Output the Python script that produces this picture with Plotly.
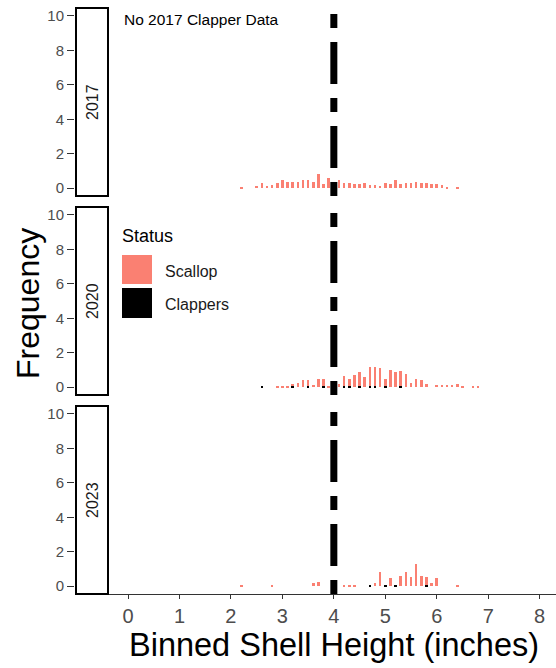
import plotly.graph_objects as go

# ---------------- data ----------------
years = ["2017", "2020", "2023"]
tick_x = [0, 1, 2, 3, 4, 5, 6, 7, 8]
tick_y = [0, 2, 4, 6, 8, 10]
threshold = 4.0

bins_2017 = [2.2, 2.5, 2.6, 2.7, 2.8, 2.9, 3.0, 3.1, 3.2, 3.3, 3.4, 3.5, 3.6, 3.7, 3.8, 3.9,
             4.0, 4.1, 4.2, 4.3, 4.4, 4.5, 4.6, 4.7, 4.8, 4.9, 5.0, 5.1, 5.2, 5.3, 5.4, 5.5,
             5.6, 5.7, 5.8, 5.9, 6.0, 6.1, 6.2, 6.4]
scallop_2017 = [0.1, 0.15, 0.3, 0.15, 0.2, 0.3, 0.5, 0.35, 0.35, 0.35, 0.45, 0.5, 0.35, 0.8, 0.25, 0.6,
                0.35, 0.5, 0.3, 0.3, 0.25, 0.25, 0.3, 0.2, 0.2, 0.15, 0.3, 0.25, 0.5, 0.25, 0.3, 0.3,
                0.35, 0.3, 0.3, 0.25, 0.25, 0.2, 0.1, 0.1]

bins_2020 = [2.9, 3.0, 3.1, 3.2, 3.3, 3.4, 3.5, 3.6, 3.7, 3.8, 3.9, 4.0, 4.1, 4.2, 4.3, 4.4,
             4.5, 4.6, 4.7, 4.8, 4.9, 5.0, 5.1, 5.2, 5.3, 5.4, 5.5, 5.6, 5.7, 5.8, 6.0, 6.1,
             6.2, 6.3, 6.4, 6.5, 6.7, 6.8]
scallop_2020 = [0.1, 0.1, 0.1, 0.1, 0.25, 0.4, 0.3, 0.15, 0.5, 0.35, 0.1, 0.3, 0.2, 0.55, 0.35, 0.7,
                0.8, 0.6, 1.1, 1.1, 1.1, 0.35, 1.0, 0.9, 0.85, 0.75, 0.25, 0.45, 0.4, 0.2, 0.15, 0.15,
                0.15, 0.15, 0.2, 0.1, 0.1, 0.1]
clap_bins_2020 = [2.6, 3.2, 3.5, 3.8, 4.2, 4.3, 4.5, 4.7, 4.8, 5.0, 5.3]
clappers_2020 = [0.1, 0.1, 0.1, 0.1, 0.1, 0.1, 0.1, 0.1, 0.1, 0.1, 0.1]

bins_2023 = [2.2, 2.8, 3.6, 3.7, 4.2, 4.3, 4.4, 4.8, 4.9, 5.1, 5.3, 5.4, 5.5, 5.6, 5.7, 5.8,
             5.9, 6.0, 6.4]
scallop_2023 = [0.1, 0.1, 0.2, 0.25, 0.1, 0.1, 0.1, 0.2, 0.8, 0.45, 0.6, 0.8, 0.55, 1.3, 0.6, 0.45,
                0.2, 0.45, 0.1]
clap_bins_2023 = [4.7, 5.0, 5.2, 5.8]
clappers_2023 = [0.1, 0.1, 0.1, 0.1]

status_labels = ["Scallop", "Clappers"]
colors = {"Scallop": "#FA8072", "Clappers": "#000000"}

# ---------------- geometry (pixels) ----------------
W, H = 556, 668
ML, MR, MT, MB = 75, 0, 8, 74
PW = W - ML - MR
PH = H - MT - MB
px_per_unit = 51.46
x_left = (ML - 128) / px_per_unit
x_right = (W - MR - 128) / px_per_unit


def fx(px):
    return (px - ML) / PW


def fy(py):
    return (H - MB - py) / PH


panels = {"2017": (8, 196), "2020": (207, 395), "2023": (406, 594)}
yaxis_for = {"2023": "y", "2020": "y2", "2017": "y3"}
BW = 0.05

fig = go.Figure()

data = {
    "2017": (bins_2017, scallop_2017, [], []),
    "2020": (bins_2020, scallop_2020, clap_bins_2020, clappers_2020),
    "2023": (bins_2023, scallop_2023, clap_bins_2023, clappers_2023),
}

for yr in years:
    b, s, cb, c = data[yr]
    ya = yaxis_for[yr]
    fig.add_trace(go.Bar(x=cb, y=c, width=BW, marker=dict(color=colors["Clappers"], line=dict(width=0)),
                         xaxis="x", yaxis=ya, name="Clappers", showlegend=False))
    fig.add_trace(go.Bar(x=b, y=s, width=BW, marker=dict(color=colors["Scallop"], line=dict(width=0)),
                         xaxis="x", yaxis=ya, name="Scallop", showlegend=False))

FONT = "Liberation Sans, Arial, sans-serif"
yax_common = dict(range=[-0.45, 10.45], tickvals=tick_y, ticks="outside", ticklen=7, tickwidth=1,
                  tickcolor="#333333", tickfont=dict(size=15, color="#4D4D4D", family=FONT),
                  showgrid=False, zeroline=False, showline=False, fixedrange=True)

layout_axes = {}
for yr in years:
    top, bot = panels[yr]
    key = "yaxis" if yaxis_for[yr] == "y" else "yaxis" + yaxis_for[yr][1:]
    layout_axes[key] = dict(yax_common, domain=[fy(bot), fy(top)], anchor="x")

shapes = []
annotations = []
for yr in years:
    top, bot = panels[yr]
    ya = yaxis_for[yr]
    shapes.append(dict(type="rect", xref="paper", yref="paper", x0=fx(76), x1=fx(108),
                       y0=fy(bot), y1=fy(top), line=dict(color="black", width=2),
                       fillcolor="white", layer="above"))
    annotations.append(dict(text=yr, xref="paper", yref="paper", x=fx(92), y=fy((top + bot) / 2),
                            xanchor="center", yanchor="middle",
                            textangle=-90, showarrow=False,
                            font=dict(size=16, color="#1A1A1A", family=FONT)))
    shapes.append(dict(type="line", xref="x", yref=ya + " domain", x0=threshold, x1=threshold,
                       y0=0, y1=1, line=dict(color="black", width=7, dash="14px,14px,42px,14px"),
                       layer="above"))

# legend (drawn)
shapes.append(dict(type="rect", xref="paper", yref="paper", x0=fx(122), x1=fx(152), y0=fy(284), y1=fy(255),
                   fillcolor=colors["Scallop"], line=dict(width=0), layer="above"))
shapes.append(dict(type="rect", xref="paper", yref="paper", x0=fx(122), x1=fx(152), y0=fy(318), y1=fy(288),
                   fillcolor=colors["Clappers"], line=dict(width=0), layer="above"))
annotations.append(dict(text="Status", xref="paper", yref="paper", x=fx(120), y=fy(236), xanchor="left",
                        yanchor="middle", showarrow=False, font=dict(size=18, color="black", family=FONT)))
annotations.append(dict(text=status_labels[0], xref="paper", yref="paper", x=fx(163), y=fy(271), xanchor="left",
                        yanchor="middle", showarrow=False, font=dict(size=16, color="#1A1A1A", family=FONT)))
annotations.append(dict(text=status_labels[1], xref="paper", yref="paper", x=fx(163), y=fy(304), xanchor="left",
                        yanchor="middle", showarrow=False, font=dict(size=16, color="#1A1A1A", family=FONT)))

annotations.append(dict(text="No 2017 Clapper Data", xref="paper", yref="paper", x=fx(122), y=fy(20),
                        xanchor="left", yanchor="middle", showarrow=False,
                        font=dict(size=15.5, color="black", family=FONT)))
annotations.append(dict(text="Frequency", xref="paper", yref="paper", x=fx(28), y=fy(304),
                        xanchor="center", yanchor="middle", textangle=-90, showarrow=False,
                        font=dict(size=32, color="black", family=FONT)))
annotations.append(dict(text="Binned Shell Height (inches)", xref="paper", yref="paper", x=fx(334), y=fy(645),
                        xanchor="center", yanchor="middle", showarrow=False,
                        font=dict(size=32.5, color="black", family=FONT)))

fig.update_layout(
    width=W, height=H, margin=dict(l=ML, r=MR, t=MT, b=MB, pad=0),
    paper_bgcolor="white", plot_bgcolor="white",
    barmode="stack", bargap=0, showlegend=False,
    xaxis=dict(range=[x_left, x_right], tickvals=tick_x, ticks="outside", ticklen=4, tickwidth=1,
               tickcolor="#333333", showline=True, linecolor="#333333", linewidth=1,
               tickfont=dict(size=20, color="#4D4D4D", family=FONT), showgrid=False, zeroline=False,
               anchor="y", fixedrange=True),
    shapes=shapes, annotations=annotations,
    **layout_axes,
)

fig.write_html("out.html")
